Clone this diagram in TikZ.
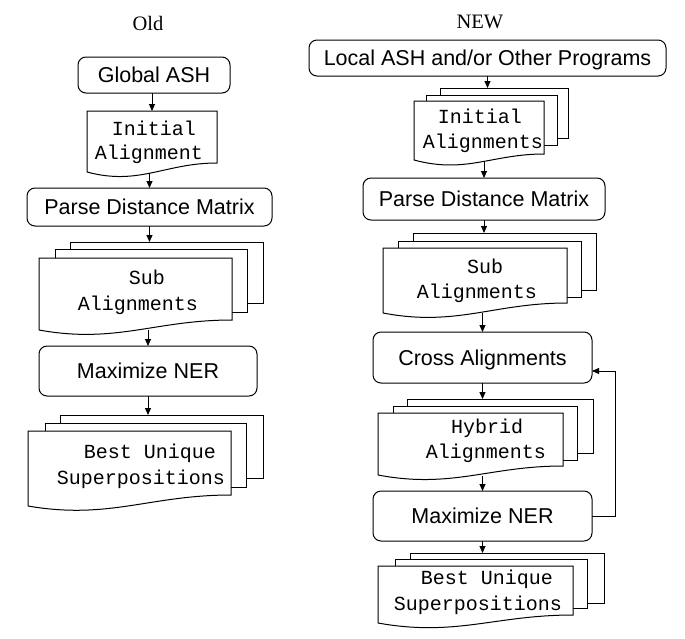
\documentclass[tikz,border=0pt]{standalone}
\usepackage{fontspec}
\setmainfont{Liberation Serif}
\setsansfont{Liberation Sans}
\setmonofont{Liberation Mono}
\usetikzlibrary{arrows.meta,calc}
\tikzset{
  procbox/.style={draw, rounded corners=8pt, line width=1pt, inner sep=0pt, outer sep=0pt,
    font=\sffamily\fontsize{21.5}{25}\selectfont, text height=15.4pt, text depth=0pt},
  sheet/.style={draw, fill=white, line width=1pt, inner sep=0pt, outer sep=0pt},
  frontsheet/.style={inner sep=0pt, outer sep=0pt},
  doctext/.style={font=\ttfamily\fontsize{20}{24}\selectfont, anchor=base, inner sep=0pt},
  title/.style={font=\rmfamily\fontsize{20.5}{24}\selectfont, anchor=base, inner sep=0pt},
  arr/.style={line width=1pt, -{Triangle[length=7pt,width=6pt]}},
}
% #1 front node name, #2 rise of right end (pt)
\newcommand{\docfront}[2]{%
  \draw[line width=1pt, fill=white] (#1.south west) -- (#1.north west) -- (#1.north east)
    -- ([yshift=#2pt]#1.south east)
    .. controls ($(#1.south west)!0.6!(#1.south east)+(0,-#2)$)
       and ($(#1.south west)!0.4!(#1.south east)+(0,14)$) .. coordinate[pos=0.5] (#1-w)
    (#1.south west);}
\begin{document}
\begin{tikzpicture}[x=1pt,y=-1pt]
\useasboundingbox (0,0) rectangle (685,638);

% titles
\node[title] (told) at (148,30) {Old};
\node[title] (tnew) at (480,28) {NEW};

% ---------------- OLD column ----------------
\node[procbox, minimum width=152pt, minimum height=36pt] (gash) at (154,75) {Global ASH};

\node[frontsheet, minimum width=130pt, minimum height=61pt] (ia1) at (152,141.5) {};
\docfront{ia1}{9}
\node[doctext] (ia1a) at (154,135) {Initial};
\node[doctext] (ia1b) at (149,159) {Alignment};

\node[procbox, minimum width=245pt, minimum height=38pt] (pdm1) at (149.5,207) {Parse Distance Matrix};

\node[sheet, minimum width=193pt, minimum height=61pt] (sa1c) at (166.5,272.5) {};
\node[sheet, minimum width=192pt, minimum height=63pt] (sa1b) at (151,280.5) {};
\node[frontsheet, minimum width=193pt, minimum height=72pt] (sa1) at (135.5,294) {};
\docfront{sa1}{10}
\node[doctext] (sa1t1) at (147,284) {Sub};
\node[doctext] (sa1t2) at (138,310) {Alignments};

\node[procbox, minimum width=218pt, minimum height=50pt] (mner1) at (148,371) {Maximize NER};

\node[sheet, minimum width=203pt, minimum height=63pt] (bus1c) at (161.5,446.5) {};
\node[sheet, minimum width=201pt, minimum height=64pt] (bus1b) at (145.5,455) {};
\node[frontsheet, minimum width=203pt, minimum height=75pt] (bus1) at (129.5,468.5) {};
\docfront{bus1}{11}
\node[doctext] (bus1t1) at (150,458) {Best Unique};
\node[doctext] (bus1t2) at (141,484) {Superpositions};

\draw[arr] (ia1.north |- gash.south) -- (ia1.north);
\draw[arr] (pdm1.north |- ia1-w) -- (pdm1.north);
\draw[arr] (pdm1.south) -- (pdm1.south |- sa1c.north);
\draw[arr] (mner1.north |- sa1-w) -- (mner1.north);
\draw[arr] (mner1.south) -- (mner1.south |- bus1c.north);

% ---------------- NEW column ----------------
\node[procbox, minimum width=357pt, minimum height=36pt] (lash) at (487.5,58) {Local ASH and/or Other Programs};

\node[sheet, minimum width=128pt, minimum height=50pt] (ia2c) at (504,113) {};
\node[sheet, minimum width=131pt, minimum height=50pt] (ia2b) at (491.5,120) {};
\node[frontsheet, minimum width=130pt, minimum height=59pt] (ia2) at (479,130.5) {};
\docfront{ia2}{6}
\node[doctext] (ia2t1) at (480,123) {Initial};
\node[doctext] (ia2t2) at (483,148) {Alignments};

\node[procbox, minimum width=242pt, minimum height=42pt] (pdm2) at (484,199) {Parse Distance Matrix};

\node[sheet, minimum width=183pt, minimum height=57pt] (sa2c) at (504.5,261.5) {};
\node[sheet, minimum width=183pt, minimum height=56pt] (sa2b) at (489.5,269) {};
\node[frontsheet, minimum width=184pt, minimum height=65pt] (sa2) at (475,280.5) {};
\docfront{sa2}{10}
\node[doctext] (sa2t1) at (485,273) {Sub};
\node[doctext] (sa2t2) at (477,298) {Alignments};

\node[procbox, minimum width=219pt, minimum height=51pt] (ca) at (482.5,357.5) {Cross Alignments};

\node[sheet, minimum width=186pt, minimum height=54pt] (ha2c) at (500,426) {};
\node[sheet, minimum width=184pt, minimum height=54pt] (ha2b) at (485,433) {};
\node[frontsheet, minimum width=185pt, minimum height=62pt] (ha2) at (470.5,444) {};
\docfront{ha2}{9}
\node[doctext] (ha2t1) at (487,433) {Hybrid};
\node[doctext] (ha2t2) at (486,458) {Alignments};

\node[procbox, minimum width=219pt, minimum height=50pt] (mner2) at (482.5,516) {Maximize NER};

\node[sheet, minimum width=194pt, minimum height=50pt] (bus2c) at (507,578) {};
\node[sheet, minimum width=192pt, minimum height=49pt] (bus2b) at (491,583.5) {};
\node[frontsheet, minimum width=195pt, minimum height=57pt] (bus2) at (475.5,594.5) {};
\docfront{bus2}{8}
\node[doctext] (bus2t1) at (487,584) {Best Unique};
\node[doctext] (bus2t2) at (478,610) {Superpositions};

\draw[arr] (lash.south) -- (lash.south |- ia2c.north);
\draw[arr] (pdm2.north |- ia2-w) -- (pdm2.north);
\draw[arr] (pdm2.south) -- (pdm2.south |- sa2c.north);
\draw[arr] (ca.north |- sa2-w) -- (ca.north);
\draw[arr] (ca.south) -- (ca.south |- ha2c.north);
\draw[arr] (mner2.north |- ha2-w) -- (mner2.north);
\draw[arr] (mner2.south) -- (mner2.south |- bus2c.north);

\coordinate (fbin) at ([yshift=-13.5pt]ca.east);
\draw[arr] (mner2.east) -- ++(23,0) |- (fbin);
\end{tikzpicture}
\end{document}
